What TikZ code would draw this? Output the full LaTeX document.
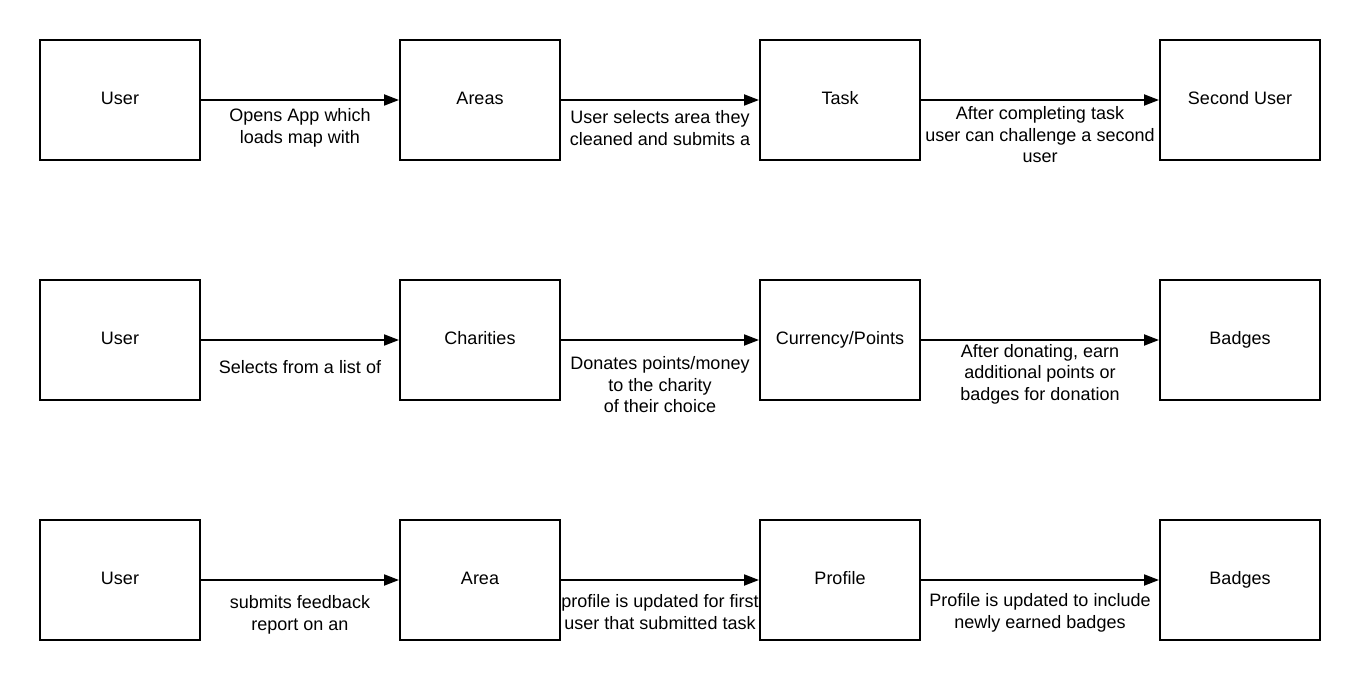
\documentclass[tikz,border=0pt]{standalone}
\usepackage{fontspec}
\setmainfont{Liberation Sans}
\usetikzlibrary{arrows.meta}
\tikzset{
  box/.style={draw=black, line width=2pt, minimum width=160pt, minimum height=120pt, inner sep=0pt, text height=13pt, text depth=4pt, font=\fontsize{18}{21.5}\selectfont},
  conn/.style={line width=2pt, -{Triangle[length=15pt,width=11pt]}},
  lbl/.style={align=center, inner sep=0pt, font=\fontsize{18}{21.5}\selectfont}
}
\begin{document}
\begin{tikzpicture}[x=1pt,y=-1pt]
\useasboundingbox (0,0) rectangle (1360,695);
% row 1
\node[box] (u1) at (120,100) {User};
\node[box] (a1) at (480,100) {Areas};
\node[box] (t1) at (840,100) {Task};
\node[box] (s1) at (1240,100) {Second User};
\draw[conn] (u1.east) -- (a1.west);
\draw[conn] (a1.east) -- (t1.west);
\draw[conn] (t1.east) -- (s1.west);
\node[lbl] (l11) at (300,128) {Opens App which\\loads map with};
\node[lbl] (l12) at (660,128) {User selects area they\\cleaned and submits a};
\node[lbl] (l13) at (1040,135) {After completing task\\user can challenge a second\\user};
% row 2
\node[box] (u2) at (120,340) {User};
\node[box] (c2) at (480,340) {Charities};
\node[box] (p2) at (840,340) {Currency/Points};
\node[box] (b2) at (1240,340) {Badges};
\draw[conn] (u2.east) -- (c2.west);
\draw[conn] (c2.east) -- (p2.west);
\draw[conn] (p2.east) -- (b2.west);
\node[lbl] (l21) at (300,367) {Selects from a list of};
\node[lbl] (l22) at (660,385) {Donates points/money\\to the charity\\of their choice};
\node[lbl] (l23) at (1040,374) {After donating, earn\\additional points or\\badges for donation};
% row 3
\node[box] (u3) at (120,580) {User};
\node[box] (a3) at (480,580) {Area};
\node[box] (p3) at (840,580) {Profile};
\node[box] (b3) at (1240,580) {Badges};
\draw[conn] (u3.east) -- (a3.west);
\draw[conn] (a3.east) -- (p3.west);
\draw[conn] (p3.east) -- (b3.west);
\node[lbl] (l31) at (300,615) {submits feedback\\report on an};
\node[lbl] (l32) at (660,612) {profile is updated for first\\user that submitted task};
\node[lbl] (l33) at (1040,613) {Profile is updated to include\\newly earned badges};
\end{tikzpicture}
\end{document}
